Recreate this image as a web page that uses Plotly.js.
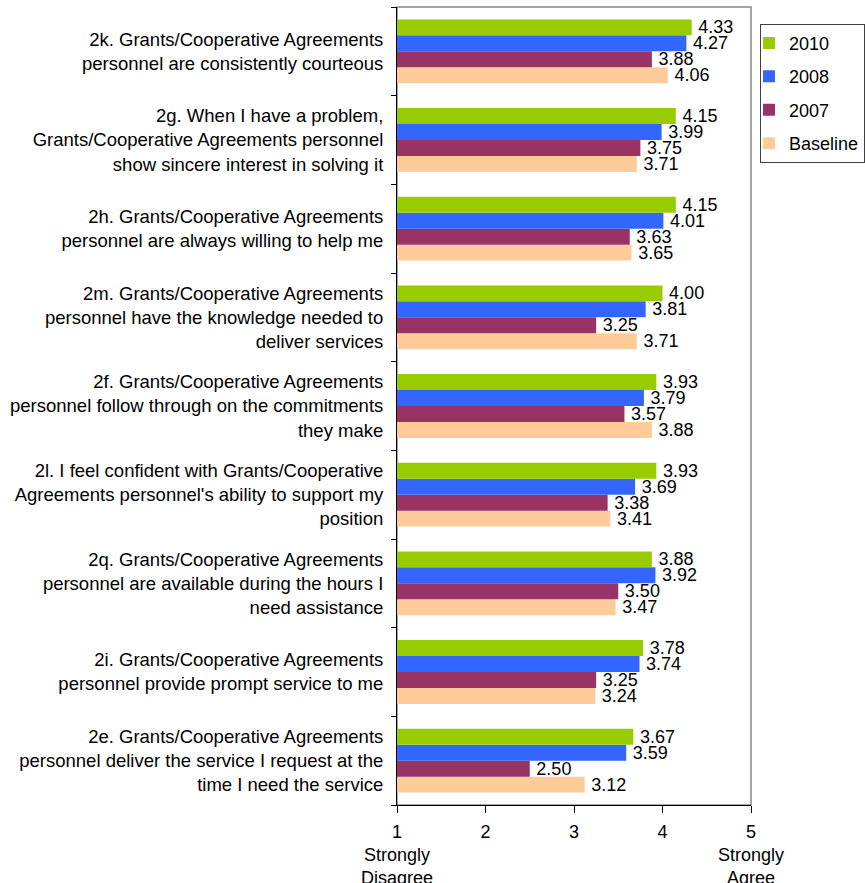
<!DOCTYPE html>
<html>
<head>
<meta charset="utf-8">
<script src="https://cdn.plot.ly/plotly-3.0.1.min.js"></script>
<style>
  html, body { margin: 0; padding: 0; background: #fff; }
  #chart { width: 865px; height: 883px; }
</style>
</head>
<body>
<div id="chart"></div>
<script>
// Survey statements, top to bottom
const statements = [
  "2k. Grants/Cooperative Agreements<br>personnel are consistently courteous",
  "2g. When I have a problem,<br>Grants/Cooperative Agreements personnel<br>show sincere interest in solving it",
  "2h. Grants/Cooperative Agreements<br>personnel are always willing to help me",
  "2m. Grants/Cooperative Agreements<br>personnel have the knowledge needed to<br>deliver services",
  "2f. Grants/Cooperative Agreements<br>personnel follow through on the commitments<br>they make",
  "2l. I feel confident with Grants/Cooperative<br>Agreements personnel's ability to support my<br>position",
  "2q. Grants/Cooperative Agreements<br>personnel are available during the hours I<br>need assistance",
  "2i. Grants/Cooperative Agreements<br>personnel provide prompt service to me",
  "2e. Grants/Cooperative Agreements<br>personnel deliver the service I request at the<br>time I need the service"
];

// Mean scores per statement (same order as above)
const score2010     = [4.33, 4.15, 4.15, 4.00, 3.93, 3.93, 3.88, 3.78, 3.67];
const score2008     = [4.27, 3.99, 4.01, 3.81, 3.79, 3.69, 3.92, 3.74, 3.59];
const score2007     = [3.88, 3.75, 3.63, 3.25, 3.57, 3.38, 3.50, 3.25, 2.50];
const scoreBaseline = [4.06, 3.71, 3.65, 3.71, 3.88, 3.41, 3.47, 3.24, 3.12];

// Scale tick labels
const scaleTickVals = [1, 2, 3, 4, 5];
const scaleTickText = ["1<br>Strongly<br>Disagree", "2", "3", "4", "5<br>Strongly<br>Agree"];

const FONT = "Liberation Sans, Arial, sans-serif";

function series(name, values, color, rank) {
  return {
    type: "bar",
    orientation: "h",
    name: name,
    legendgroup: name,
    legendrank: rank,
    y: statements,
    x: values,
    marker: { color: color, line: { width: 0 } },
    // thin space keeps the value label a little off the bar end
    text: values.map(v => "\u2009" + v.toFixed(2)),
    textposition: "outside",
    constraintext: "none",
    textfont: { family: FONT, size: 18, color: "#000" },
    hoverinfo: "x+name"
  };
}

// Drawn bottom-to-top within each group: Baseline lowest, 2010 on top
const traces = [
  series("Baseline", scoreBaseline, "#FFCC99", 4),
  series("2007", score2007, "#993366", 3),
  series("2008", score2008, "#3366FF", 2),
  series("2010", score2010, "#99CC00", 1)
];

const layout = {
  width: 865,
  height: 883,
  margin: { l: 397, r: 114, t: 7, b: 78, pad: 0, autoexpand: false },
  paper_bgcolor: "#fff",
  plot_bgcolor: "#fff",
  font: { family: FONT, size: 18, color: "#000" },
  barmode: "group",
  bargap: 0.28,
  bargroupgap: 0,
  showlegend: true,
  legend: {
    x: 1.0254, xanchor: "left",
    y: 0.979, yanchor: "top",
    traceorder: "grouped",
    tracegroupgap: 7,
    indentation: -12,
    bordercolor: "#404040",
    borderwidth: 1,
    bgcolor: "#fff",
    font: { family: FONT, size: 18, color: "#000" }
  },
  xaxis: {
    range: [1, 5],
    tickvals: scaleTickVals,
    ticktext: scaleTickText,
    showgrid: false,
    zeroline: false,
    showline: true,
    linecolor: "#000",
    linewidth: 1,
    ticks: "outside",
    ticklen: 7,
    tickcolor: "#000",
    ticklabelstandoff: 3,
    tickfont: { family: FONT, size: 18, color: "#000" },
    fixedrange: true
  },
  yaxis: {
    type: "category",
    categoryorder: "array",
    categoryarray: statements.slice().reverse(),
    showgrid: false,
    zeroline: false,
    showline: true,
    linecolor: "#000",
    linewidth: 1,
    ticks: "outside",
    tickson: "boundaries",
    ticklen: 5,
    tickcolor: "#000",
    ticklabelstandoff: 9,
    tickfont: { family: FONT, size: 18.5, color: "#000" },
    fixedrange: true
  },
  shapes: [{
    type: "rect", xref: "paper", yref: "paper",
    x0: 0, x1: 1, y0: 0, y1: 1,
    line: { color: "#888", width: 1.5 },
    layer: "below"
  }]
};

Plotly.newPlot("chart", traces, layout, { displayModeBar: false, staticPlot: true });
</script>
</body>
</html>
